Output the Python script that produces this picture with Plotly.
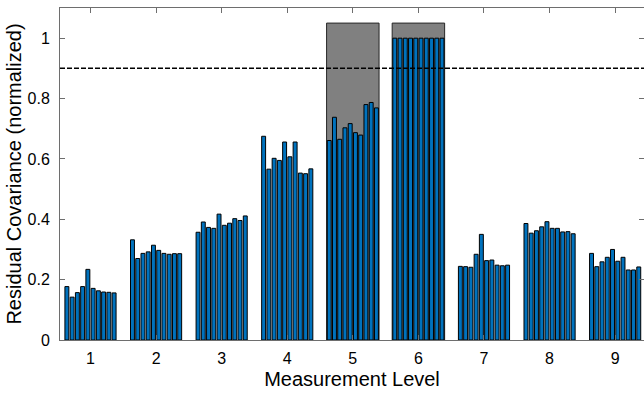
import plotly.graph_objects as go

levels = [1, 2, 3, 4, 5, 6, 7, 8, 9]
tick_labels = ["1", "2", "3", "4", "5", "6", "7", "8", "9"]

lvl1 = [0.177, 0.142, 0.157, 0.177, 0.234, 0.171, 0.163, 0.159, 0.158, 0.156]
lvl2 = [0.332, 0.270, 0.287, 0.292, 0.314, 0.297, 0.287, 0.284, 0.286, 0.286]
lvl3 = [0.357, 0.391, 0.373, 0.370, 0.417, 0.380, 0.387, 0.402, 0.396, 0.411]
lvl4 = [0.675, 0.566, 0.602, 0.595, 0.656, 0.607, 0.656, 0.553, 0.551, 0.567]
lvl5 = [0.661, 0.738, 0.665, 0.703, 0.717, 0.687, 0.679, 0.780, 0.787, 0.769]
lvl6 = [1.0, 1.0, 1.0, 1.0, 1.0, 1.0, 1.0, 1.0, 1.0, 1.0]
lvl7 = [0.244, 0.243, 0.241, 0.284, 0.350, 0.263, 0.265, 0.248, 0.246, 0.248]
lvl8 = [0.386, 0.354, 0.362, 0.375, 0.392, 0.370, 0.370, 0.358, 0.359, 0.352]
lvl9 = [0.287, 0.243, 0.259, 0.274, 0.300, 0.261, 0.274, 0.232, 0.232, 0.242]

highlight_levels = [5, 6]
highlight_height = [1.05, 1.05]
threshold = 0.9

by_level = [lvl1, lvl2, lvl3, lvl4, lvl5, lvl6, lvl7, lvl8, lvl9]
n_series = len(lvl1)

BLUE = "#0072BD"
AXC = "#6e6e6e"
FONT = "Liberation Sans, Arial, sans-serif"
XR = [0.535, 9.44]

fig = go.Figure()

# gray highlight boxes (drawn behind, on base x axis)
fig.add_trace(go.Bar(
    x=highlight_levels, y=highlight_height, width=0.8,
    marker=dict(color="#808080", line=dict(color="#262626", width=1)),
    xaxis="x", yaxis="y", showlegend=False, hoverinfo="skip",
))

for i in range(n_series):
    fig.add_trace(go.Bar(
        x=levels, y=[row[i] for row in by_level],
        marker=dict(color=BLUE, line=dict(color="black", width=1)),
        xaxis="x2", yaxis="y", showlegend=False,
    ))

fig.add_hline(y=threshold, line=dict(color="black", width=1.5, dash="5px,2px"))

fig.update_layout(
    width=644, height=397,
    margin=dict(l=60, r=0, t=8, b=57),
    paper_bgcolor="white", plot_bgcolor="white",
    barmode="group", bargap=0.2, bargroupgap=0.25,
    font=dict(family=FONT, color="black", size=16),
    xaxis=dict(
        range=XR, tickvals=levels, ticktext=tick_labels,
        ticks="inside", ticklen=5, tickcolor=AXC, tickwidth=1,
        showline=True, linecolor=AXC, linewidth=1, mirror="ticks",
        showgrid=False, zeroline=False, ticklabelstandoff=4,
        tickfont=dict(size=16, family=FONT, color="black"),
        title=dict(text="Measurement Level", font=dict(size=20, family=FONT), standoff=5),
    ),
    xaxis2=dict(
        range=XR, overlaying="x", showticklabels=False, showgrid=False,
        zeroline=False, showline=False, ticks="",
    ),
    yaxis=dict(
        range=[0, 1.1], tickvals=[0, 0.2, 0.4, 0.6, 0.8, 1],
        ticktext=["0", "0.2", "0.4", "0.6", "0.8", "1"],
        ticks="inside", ticklen=5, tickcolor=AXC, tickwidth=1,
        showline=True, linecolor=AXC, linewidth=1, mirror="ticks",
        showgrid=False, zeroline=False, ticklabelstandoff=6,
        tickfont=dict(size=16, family=FONT, color="black"),
        title=dict(text="Residual Covariance (normalized)", font=dict(size=20, family=FONT), standoff=0),
    ),
)

fig.write_html("out.html")
